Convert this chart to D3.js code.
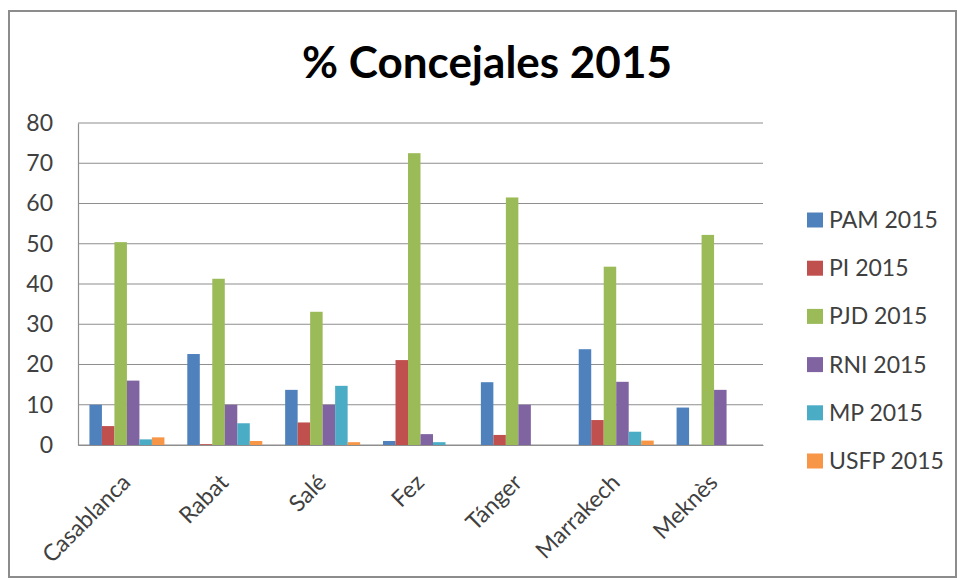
<!DOCTYPE html>
<html><head><meta charset="utf-8">
<script src="https://cdn.jsdelivr.net/npm/d3@7"></script>
<style>body{margin:0;background:#fff}svg{display:block}</style>
</head><body>
<script>
const categories = ["Casablanca","Rabat","Salé","Fez","Tánger","Marrakech","Meknès"];
const seriesNames = ["PAM 2015","PI 2015","PJD 2015","RNI 2015","MP 2015","USFP 2015"];
const pam  = [10.0, 22.6, 13.7, 1.0, 15.6, 23.8, 9.3];
const pi   = [4.7, 0.2, 5.6, 21.1, 2.5, 6.2, 0];
const pjd  = [50.4, 41.3, 33.1, 72.5, 61.5, 44.3, 52.2];
const rni  = [16.0, 10.0, 10.0, 2.7, 10.0, 15.7, 13.7];
const mp   = [1.4, 5.4, 14.7, 0.7, 0, 3.3, 0];
const usfp = [1.9, 1.0, 0.7, 0, 0, 1.1, 0];
const yTicks = [0,10,20,30,40,50,60,70,80];
const colors = ["#4F81BD","#C0504D","#9BBB59","#8064A2","#4BACC6","#F79646"];
const seriesValues = [pam, pi, pjd, rni, mp, usfp];

const W = 957, H = 580;
const svg = d3.select("body").append("svg").attr("width", W).attr("height", H);
const font = "Lato, 'Open Sans', sans-serif";

svg.append("rect").attr("x",9).attr("y",11).attr("width",W-10).attr("height",H-14)
  .attr("fill","#fff").attr("stroke","#8c8c8c").attr("stroke-width",2);

svg.append("text").attr("x",487).attr("y",78).attr("text-anchor","middle")
  .attr("font-family",font).attr("font-weight","bold").attr("font-size",44)
  .attr("fill","#000").text("% Concejales 2015");

const plot = {l:78, r:763, t:123, b:445};
const x0 = d3.scaleBand().domain(categories).range([plot.l, plot.r]).paddingInner(0).paddingOuter(0);
const x1 = d3.scaleBand().domain(seriesNames).range([0, x0.bandwidth()]).paddingInner(0).paddingOuter(0.915);
const y = d3.scaleLinear().domain([0,80]).range([plot.b, plot.t]);

// gridlines
svg.append("g").selectAll("line").data(yTicks).join("line")
  .attr("x1",plot.l).attr("x2",plot.r).attr("y1",d=>y(d)).attr("y2",d=>y(d))
  .attr("stroke","#8e8e8e").attr("stroke-width",1.2);

// bars
const groups = svg.append("g").selectAll("g").data(categories).join("g")
  .attr("transform",c=>`translate(${x0(c)},0)`);
groups.selectAll("rect").data((c,i)=>seriesNames.map((s,j)=>({s, v: seriesValues[j][i], j})))
  .join("rect")
  .attr("x",d=>x1(d.s)).attr("width",x1.bandwidth())
  .attr("y",d=>y(d.v)).attr("height",d=>plot.b - y(d.v))
  .attr("fill",d=>colors[d.j]);

// y axis
const yAxis = svg.append("g").attr("transform",`translate(${plot.l},0)`)
  .call(d3.axisLeft(y).tickValues(yTicks).tickSize(0).tickPadding(25));
yAxis.select(".domain").attr("stroke","#8e8e8e").attr("stroke-width",1.2);
yAxis.selectAll("text").attr("font-family",font).attr("font-size",23).attr("fill","#404040");

// x axis
const xAxis = svg.append("g").attr("transform",`translate(0,${plot.b})`)
  .call(d3.axisBottom(x0).tickSize(0).tickPadding(0));
xAxis.select(".domain").attr("stroke","#8e8e8e").attr("stroke-width",1.2);
xAxis.selectAll("text").attr("font-family",font).attr("font-size",23).attr("fill","#404040")
  .attr("text-anchor","end").attr("dy",0).attr("y",0)
  .attr("transform","translate(5,39) rotate(-45)");

// legend
const leg = svg.append("g").selectAll("g").data(seriesNames).join("g")
  .attr("transform",(d,i)=>`translate(807,${220 + i*48.2})`);
leg.append("rect").attr("x",0).attr("y",-7.5).attr("width",16).attr("height",15)
  .attr("fill",(d,i)=>colors[i]);
leg.append("text").attr("x",22).attr("y",0).attr("dy","0.35em")
  .attr("font-family",font).attr("font-size",23).attr("fill","#404040").text(d=>d);
</script>
</body></html>
